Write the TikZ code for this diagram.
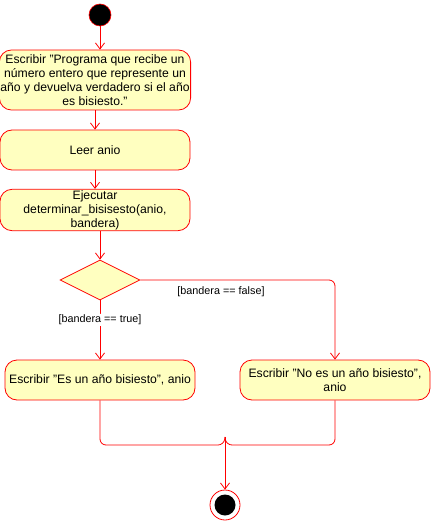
\documentclass[tikz,border=0pt]{standalone}
\usepackage{fontspec}
\setmainfont{Liberation Sans}[Ligatures=NoCommon]
\usetikzlibrary{arrows.meta,shapes.geometric}
\definecolor{actfill}{HTML}{FFFFC0}
\definecolor{actline}{HTML}{FF0000}
\newcommand{\dq}{\symbol{34}}
\begin{document}
\begin{tikzpicture}[x=1pt,y=-1pt,
  act/.style={draw=actline,fill=actfill,rounded corners=12pt,line width=0.8pt,
    minimum width=190pt,minimum height=40pt,inner sep=1pt,align=center,
    font=\fontsize{12.2}{14}\selectfont},
  flow/.style={draw=actline,line width=0.8pt,rounded corners=6pt,
    -{Straight Barb[length=6pt,width=9pt,line width=0.8pt]}},
  guard/.style={fill=white,inner sep=1pt,font=\fontsize{10.8}{12}\selectfont}]
\useasboundingbox (0,0) rectangle (431,521);
\node[circle,fill=black,draw=actline,line width=0.6pt,minimum size=22pt,inner sep=0pt] (start) at (100,15) {};
\node[act,minimum height=60pt] (b1) at (95,80) {Escribir \dq Programa que recibe un\\número entero que represente un\\año y devuelva verdadero si el año\\es bisiesto.\dq};
\node[act] (b2) at (95,150) {Leer anio};
\node[act] (b3) at (95,210) {Ejecutar\\determinar\_bisisesto(anio,\\bandera)};
\node[diamond,draw=actline,fill=actfill,line width=0.8pt,minimum width=80pt,minimum height=40pt,inner sep=0pt,aspect=2] (d) at (100,280) {};
\node[act] (b4) at (100,380) {Escribir \dq Es un año bisiesto\dq, anio};
\node[act] (b5) at (335,380) {Escribir \dq No es un año bisiesto\dq,\\anio};
\node[circle,draw=actline,fill=white,line width=0.8pt,minimum size=30pt,inner sep=0pt] (endo) at (225,505) {};
\node[circle,fill=black,minimum size=21pt,inner sep=0pt] (endi) at (225,505) {};
\coordinate (m) at (225,445);
\draw[flow] (start) -- (b1.north -| start);
\draw[flow] (b1.south) -- (b2.north);
\draw[flow] (b2.south) -- (b3.north);
\draw[flow] (b3.south -| d) -- (d.north);
\draw[flow] (d.south) -- node[guard,pos=0.33]{[bandera == true]} (b4.north);
\draw[flow] (d.east) -- (b5.north |- d.east) -- (b5.north);
\node[guard,fill=none] (gf) at (221,292) {[bandera == false]};
\draw[draw=actline,line width=0.8pt,rounded corners=6pt] (b4.south) -- (b4.south |- m) -- ([xshift=-1pt]m) -- ([yshift=8pt]m);
\draw[draw=actline,line width=0.8pt,rounded corners=6pt] (b5.south) -- (b5.south |- m) -- ([xshift=1pt]m) -- ([yshift=8pt]m);
\draw[flow] ([yshift=8pt]m) -- (endo.north);
\end{tikzpicture}
\end{document}
